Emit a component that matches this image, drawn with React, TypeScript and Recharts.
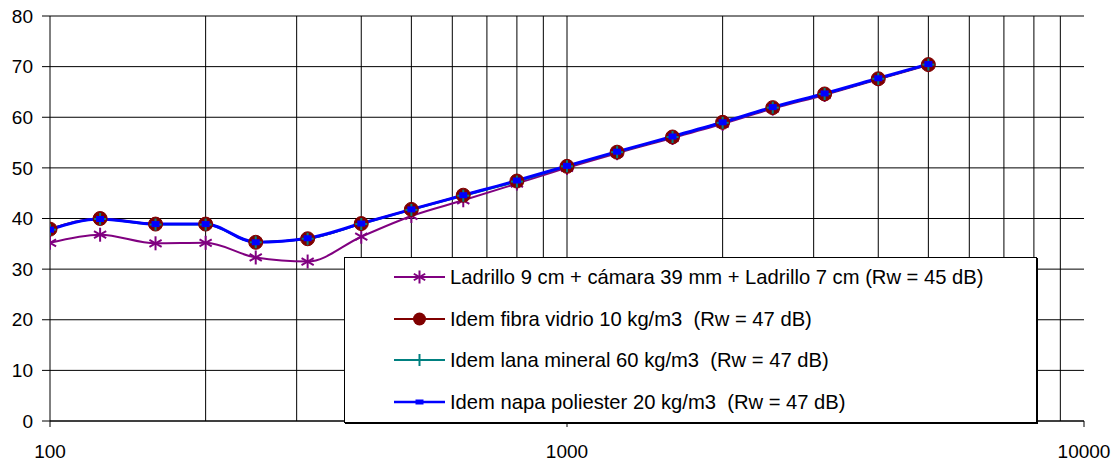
import React from 'react';
import { LineChart, Line, XAxis, YAxis, CartesianGrid, ReferenceLine } from 'recharts';

const FONT = '"Liberation Sans", Arial, Helvetica, sans-serif';

const freqs = [100, 125, 160, 200, 250, 315, 400, 500, 630, 800, 1000, 1250, 1600, 2000, 2500, 3150, 4000, 5000];
const ladrillo = [35.2, 36.8, 35.1, 35.2, 32.3, 31.5, 36.4, 40.5, 43.6, 46.9, 50.0, 52.9, 55.9, 58.7, 61.7, 64.4, 67.5, 70.3];
const fibra = [37.9, 40.0, 38.9, 38.9, 35.3, 36.0, 39.0, 41.8, 44.6, 47.4, 50.3, 53.1, 56.1, 59.0, 61.9, 64.6, 67.6, 70.4];
const lana = [37.8, 39.9, 38.8, 38.8, 35.3, 36.0, 38.9, 41.7, 44.5, 47.3, 50.3, 53.1, 56.1, 58.9, 61.9, 64.6, 67.6, 70.4];
const napa = [37.8, 39.9, 38.9, 38.9, 35.3, 36.1, 39.0, 41.8, 44.6, 47.5, 50.4, 53.2, 56.2, 59.0, 62.0, 64.7, 67.7, 70.5];

const seriesNames = [
  'Ladrillo 9 cm + cámara 39 mm + Ladrillo 7 cm (Rw = 45 dB)',
  'Idem fibra vidrio 10 kg/m3  (Rw = 47 dB)',
  'Idem lana mineral 60 kg/m3  (Rw = 47 dB)',
  'Idem napa poliester 20 kg/m3  (Rw = 47 dB)',
];
const seriesColors = ['#800080', '#800000', '#008080', '#0000FF'];

const xTicks = [100, 1000, 10000];
const yTicks = [0, 10, 20, 30, 40, 50, 60, 70, 80];
const gridFreqs = [200, 300, 400, 500, 600, 700, 800, 900, 1000, 2000, 3000, 4000, 5000, 6000, 7000, 8000, 9000];

const data = freqs.map((f, i) => ({ f, s1: ladrillo[i], s2: fibra[i], s3: lana[i], s4: napa[i] }));

const StarDot = (p: any) => {
  const { cx, cy } = p;
  if (cx == null || cy == null) return <g key={p.index} />;
  const r = 7;
  const d = r * 0.87;
  return (
    <g key={p.index} stroke={seriesColors[0]} strokeWidth={2}>
      <line x1={cx} y1={cy - r} x2={cx} y2={cy + r} />
      <line x1={cx - d} y1={cy - r / 2} x2={cx + d} y2={cy + r / 2} />
      <line x1={cx - d} y1={cy + r / 2} x2={cx + d} y2={cy - r / 2} />
    </g>
  );
};

const CircleDot = (p: any) => {
  const { cx, cy } = p;
  if (cx == null || cy == null) return <g key={p.index} />;
  return <circle key={p.index} cx={cx} cy={cy} r={7} fill={seriesColors[1]} stroke={seriesColors[1]} />;
};

const PlusDot = (p: any) => {
  const { cx, cy } = p;
  if (cx == null || cy == null) return <g key={p.index} />;
  const r = 6;
  return (
    <g key={p.index} stroke={seriesColors[2]} strokeWidth={2}>
      <line x1={cx} y1={cy - r} x2={cx} y2={cy + r} />
      <line x1={cx - r} y1={cy} x2={cx + r} y2={cy} />
    </g>
  );
};

const SquareDot = (p: any) => {
  const { cx, cy } = p;
  if (cx == null || cy == null) return <g key={p.index} />;
  return <rect key={p.index} x={cx - 4} y={cy - 3} width={8} height={6} fill={seriesColors[3]} />;
};

const legendMarkers = [
  (cx: number, cy: number) => (
    <g stroke={seriesColors[0]} strokeWidth={2}>
      <line x1={cx} y1={cy - 6.5} x2={cx} y2={cy + 6.5} />
      <line x1={cx - 5.7} y1={cy - 3.25} x2={cx + 5.7} y2={cy + 3.25} />
      <line x1={cx - 5.7} y1={cy + 3.25} x2={cx + 5.7} y2={cy - 3.25} />
    </g>
  ),
  (cx: number, cy: number) => <circle cx={cx} cy={cy} r={6.5} fill={seriesColors[1]} />,
  (cx: number, cy: number) => (
    <g stroke={seriesColors[2]} strokeWidth={2}>
      <line x1={cx} y1={cy - 6} x2={cx} y2={cy + 6} />
      <line x1={cx - 6} y1={cy} x2={cx + 6} y2={cy} />
    </g>
  ),
  (cx: number, cy: number) => <rect x={cx - 4} y={cy - 2.5} width={8} height={5} fill={seriesColors[3]} />,
];

const LegendBox = () => (
  <div
    style={{
      position: 'absolute',
      left: 344,
      top: 257,
      width: 693,
      height: 166,
      boxSizing: 'border-box',
      border: '1px solid #000',
      boxShadow: '1px 1px 0 #000',
      background: '#fff',
      fontFamily: FONT,
      fontSize: 20.2,
      color: '#000',
    }}
  >
    {seriesNames.map((name, i) => (
      <div
        key={name}
        style={{
          position: 'absolute',
          left: 48,
          top: 19 + i * 41.6 - 12,
          height: 24,
          display: 'flex',
          alignItems: 'center',
          whiteSpace: 'pre',
        }}
      >
        <svg width={54} height={24} style={{ display: 'block' }}>
          <line x1={1} y1={12} x2={52} y2={12} stroke={seriesColors[i]} strokeWidth={i === 3 ? 2.5 : 2} />
          {legendMarkers[i](26.5, 12)}
        </svg>
        <span style={{ marginLeft: 3, lineHeight: '24px' }}>{name}</span>
      </div>
    ))}
  </div>
);

export default function App() {
  return (
    <div style={{ position: 'absolute', left: 0, top: 0, width: 1120, height: 464, background: '#fff' }}>
      <LineChart width={1120} height={464} data={data} margin={{ top: 16, right: 36, bottom: 0, left: 0 }}>
        <CartesianGrid vertical={false} stroke="#000" strokeWidth={1} strokeOpacity={1} />
        {gridFreqs.map((g) => (
          <ReferenceLine key={g} x={g} stroke="#000" strokeWidth={1} />
        ))}
        <XAxis
          dataKey="f"
          type="number"
          scale="log"
          domain={[100, 10000]}
          ticks={xTicks}
          allowDataOverflow
          height={43}
          tickSize={6}
          tickMargin={18}
          axisLine={{ stroke: '#000' }}
          tickLine={{ stroke: '#000' }}
          tick={{ fill: '#000', fontSize: 19, fontFamily: FONT }}
        />
        <YAxis
          type="number"
          domain={[0, 80]}
          ticks={yTicks}
          width={50}
          tickSize={8}
          tickMargin={9}
          axisLine={{ stroke: '#000' }}
          tickLine={{ stroke: '#000' }}
          tick={{ fill: '#000', fontSize: 19, fontFamily: FONT }}
        />
        <Line type="monotone" dataKey="s1" stroke={seriesColors[0]} strokeWidth={2} dot={StarDot} isAnimationActive={false} />
        <Line type="monotone" dataKey="s2" stroke={seriesColors[1]} strokeWidth={2} dot={CircleDot} isAnimationActive={false} />
        <Line type="monotone" dataKey="s3" stroke={seriesColors[2]} strokeWidth={2} dot={PlusDot} isAnimationActive={false} />
        <Line type="monotone" dataKey="s4" stroke={seriesColors[3]} strokeWidth={3} dot={SquareDot} isAnimationActive={false} />
      </LineChart>
      <LegendBox />
    </div>
  );
}
